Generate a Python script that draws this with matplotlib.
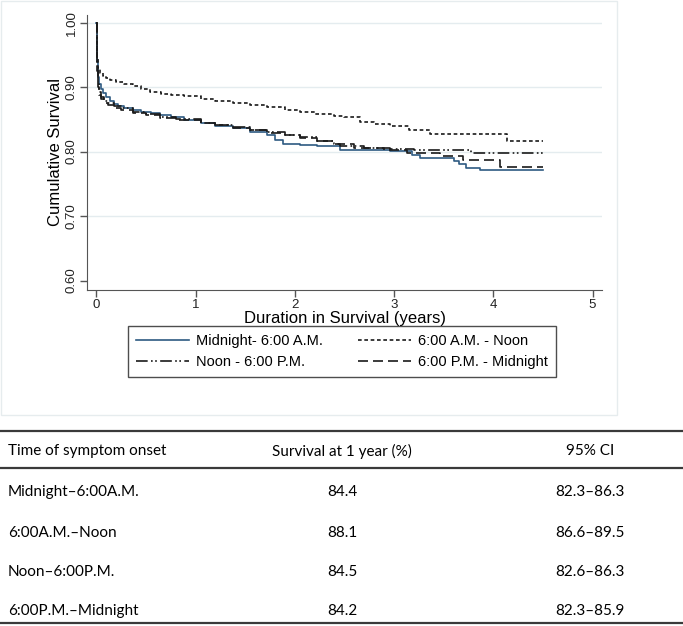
import matplotlib.pyplot as plt
from matplotlib.patches import Rectangle

# Kaplan-Meier curves (time in years, survival)
t_midnight = [0, 0.005, 0.01, 0.02, 0.03, 0.05, 0.07, 0.10, 0.14, 0.18, 0.22, 0.28, 0.37, 0.45, 0.55,
              0.64, 0.75, 0.88, 1.05, 1.2, 1.38, 1.55, 1.72, 1.80, 1.88, 2.05, 2.22, 2.46, 2.7, 2.96,
              3.18, 3.26, 3.60, 3.65, 3.72, 3.87, 4.50]
s_midnight = [1.0, 0.97, 0.94, 0.915, 0.905, 0.897, 0.891, 0.884, 0.879, 0.874, 0.870, 0.867, 0.864, 0.862, 0.860,
              0.857, 0.853, 0.849, 0.844, 0.840, 0.836, 0.831, 0.826, 0.818, 0.812, 0.810, 0.808, 0.803, 0.802, 0.801,
              0.795, 0.790, 0.785, 0.780, 0.775, 0.771, 0.771]

t_morning = [0, 0.005, 0.01, 0.02, 0.04, 0.07, 0.10, 0.14, 0.2, 0.28, 0.37, 0.45, 0.54, 0.65, 0.75, 0.88,
             1.05, 1.2, 1.38, 1.55, 1.72, 1.9, 2.05, 2.2, 2.39, 2.5, 2.66, 2.8, 2.96, 3.15, 3.36, 4.14, 4.50]
s_morning = [1.0, 0.97, 0.945, 0.93, 0.922, 0.917, 0.914, 0.911, 0.908, 0.905, 0.902, 0.897, 0.893, 0.890, 0.888, 0.886,
             0.882, 0.879, 0.876, 0.872, 0.869, 0.865, 0.862, 0.859, 0.855, 0.853, 0.846, 0.843, 0.840, 0.834, 0.828,
             0.817, 0.817]

t_afternoon = [0, 0.005, 0.01, 0.02, 0.03, 0.05, 0.08, 0.12, 0.18, 0.25, 0.37, 0.5, 0.64, 0.8, 1.05, 1.2,
               1.38, 1.55, 1.72, 1.9, 2.05, 2.22, 2.39, 2.46, 2.7, 2.96, 3.2, 3.78, 4.5]
s_afternoon = [1.0, 0.96, 0.93, 0.905, 0.893, 0.885, 0.879, 0.875, 0.871, 0.867, 0.862, 0.858, 0.854, 0.850, 0.845, 0.842,
               0.838, 0.834, 0.830, 0.826, 0.822, 0.817, 0.812, 0.809, 0.806, 0.804, 0.802, 0.798, 0.798]

t_evening = [0, 0.005, 0.01, 0.02, 0.03, 0.05, 0.08, 0.12, 0.18, 0.25, 0.37, 0.5, 0.64, 0.8, 1.05, 1.2,
             1.38, 1.55, 1.72, 1.9, 2.05, 2.22, 2.39, 2.6, 2.9, 3.13, 3.46, 3.69, 4.07, 4.5]
s_evening = [1.0, 0.96, 0.925, 0.9, 0.888, 0.881, 0.876, 0.872, 0.868, 0.864, 0.860, 0.856, 0.852, 0.849, 0.845, 0.841,
             0.837, 0.833, 0.829, 0.825, 0.821, 0.816, 0.811, 0.806, 0.803, 0.798, 0.793, 0.787, 0.776, 0.776]

labels = ['Midnight- 6:00 A.M.', '6:00 A.M. - Noon', 'Noon - 6:00 P.M.', '6:00 P.M. - Midnight']
x_ticks = [0, 1, 2, 3, 4, 5]
y_ticks = [0.60, 0.70, 0.80, 0.90, 1.00]

# table below the chart
table_header = ['Time of symptom onset', 'Survival at 1 year (%)', '95% CI']
table_groups = ['Midnight\u20136:00A.M.', '6:00A.M.\u2013Noon', 'Noon\u20136:00P.M.', '6:00P.M.\u2013Midnight']
table_surv = ['84.4', '88.1', '84.5', '84.2']
table_ci = ['82.3\u201386.3', '86.6\u201389.5', '82.6\u201386.3', '82.3\u201385.9']

W, H = 683, 626
fig = plt.figure(figsize=(W / 100, H / 100), dpi=100)
plt.rcParams['font.family'] = ['Liberation Sans', 'DejaVu Sans']


def fx(px):
    return px / W


def fy(py):
    return 1 - py / H


# light frame round the graph region (Stata style)
fig.patches.append(Rectangle((fx(1), fy(415)), fx(616), fy(1) - fy(415), transform=fig.transFigure,
                             fill=False, edgecolor='#e6ecee', lw=1))

ax = fig.add_axes([fx(87), fy(290), fx(602) - fx(87), fy(14.6) - fy(290)])
ax.set_xlim(-0.094, 5.095)
ax.set_ylim(0.5854, 1.0124)
for y in [0.70, 0.80, 0.90, 1.00]:
    ax.axhline(y, color='#e4ecef', lw=1, zorder=0)

l1, = ax.plot(t_midnight, s_midnight, drawstyle='steps-post', color='#2e5a82', lw=1.2, label=labels[0])
l2, = ax.plot(t_morning, s_morning, drawstyle='steps-post', color='#1a1a1a', lw=1.2,
              linestyle=(0, (2.2, 1.6)), label=labels[1])
l3, = ax.plot(t_afternoon, s_afternoon, drawstyle='steps-post', color='#1a1a1a', lw=1.2,
              linestyle=(0, (7, 2, 1, 1.5, 1, 2)), label=labels[2])
l4, = ax.plot(t_evening, s_evening, drawstyle='steps-post', color='#1a1a1a', lw=1.2,
              linestyle=(0, (6, 3)), label=labels[3])

ax.set_xticks(x_ticks)
ax.set_yticks(y_ticks)
ax.set_yticklabels(['%.2f' % v for v in y_ticks], rotation=90, va='center')
ax.tick_params(axis='both', direction='out', length=5, width=1, color='#555555',
               labelsize=9.5, labelcolor='#222222', pad=1.5)
for side in ['top', 'right']:
    ax.spines[side].set_visible(False)
for side in ['left', 'bottom']:
    ax.spines[side].set_color('#555555')
ax.set_xlabel('Duration in Survival (years)', fontsize=12, labelpad=0)
ax.set_ylabel('Cumulative Survival', fontsize=12, labelpad=2)

# legend filled row by row
fig.legend([l1, l3, l2, l4], [labels[0], labels[2], labels[1], labels[3]],
           loc='lower left', bbox_to_anchor=(fx(128), fy(377), fx(556) - fx(128), fy(325) - fy(377)),
           mode='expand', ncol=2, frameon=True, fancybox=False, edgecolor='#222222',
           fontsize=10.5, handlelength=3.6, handletextpad=0.5, columnspacing=1.0,
           borderaxespad=0, borderpad=0.55, labelspacing=0.45)

# table
tfont = ['Lato', 'DejaVu Sans']
tsize = 11
line_kw = dict(color='#3a3a3a', lw=1.6, transform=fig.transFigure)
fig.add_artist(plt.Line2D([0, 1], [fy(431), fy(431)], **line_kw))
fig.add_artist(plt.Line2D([0, 1], [fy(468), fy(468)], **line_kw))
fig.add_artist(plt.Line2D([0, 1], [fy(623), fy(623)], **line_kw))

col_x = [fx(8), fx(342), fx(590)]
fig.text(col_x[0], fy(451), table_header[0], ha='left', va='center', fontsize=tsize, family=tfont)
fig.text(col_x[1], fy(451), table_header[1], ha='center', va='center', fontsize=tsize, family=tfont)
fig.text(col_x[2], fy(451), table_header[2], ha='center', va='center', fontsize=tsize, family=tfont)
row_y = [492, 533, 572, 611]
for i in range(len(table_groups)):
    fig.text(col_x[0], fy(row_y[i]), table_groups[i], ha='left', va='center', fontsize=tsize, family=tfont)
    fig.text(col_x[1], fy(row_y[i]), table_surv[i], ha='center', va='center', fontsize=tsize, family=tfont)
    fig.text(col_x[2], fy(row_y[i]), table_ci[i], ha='center', va='center', fontsize=tsize, family=tfont)

plt.savefig('out.png', dpi=100)
plt.close()
